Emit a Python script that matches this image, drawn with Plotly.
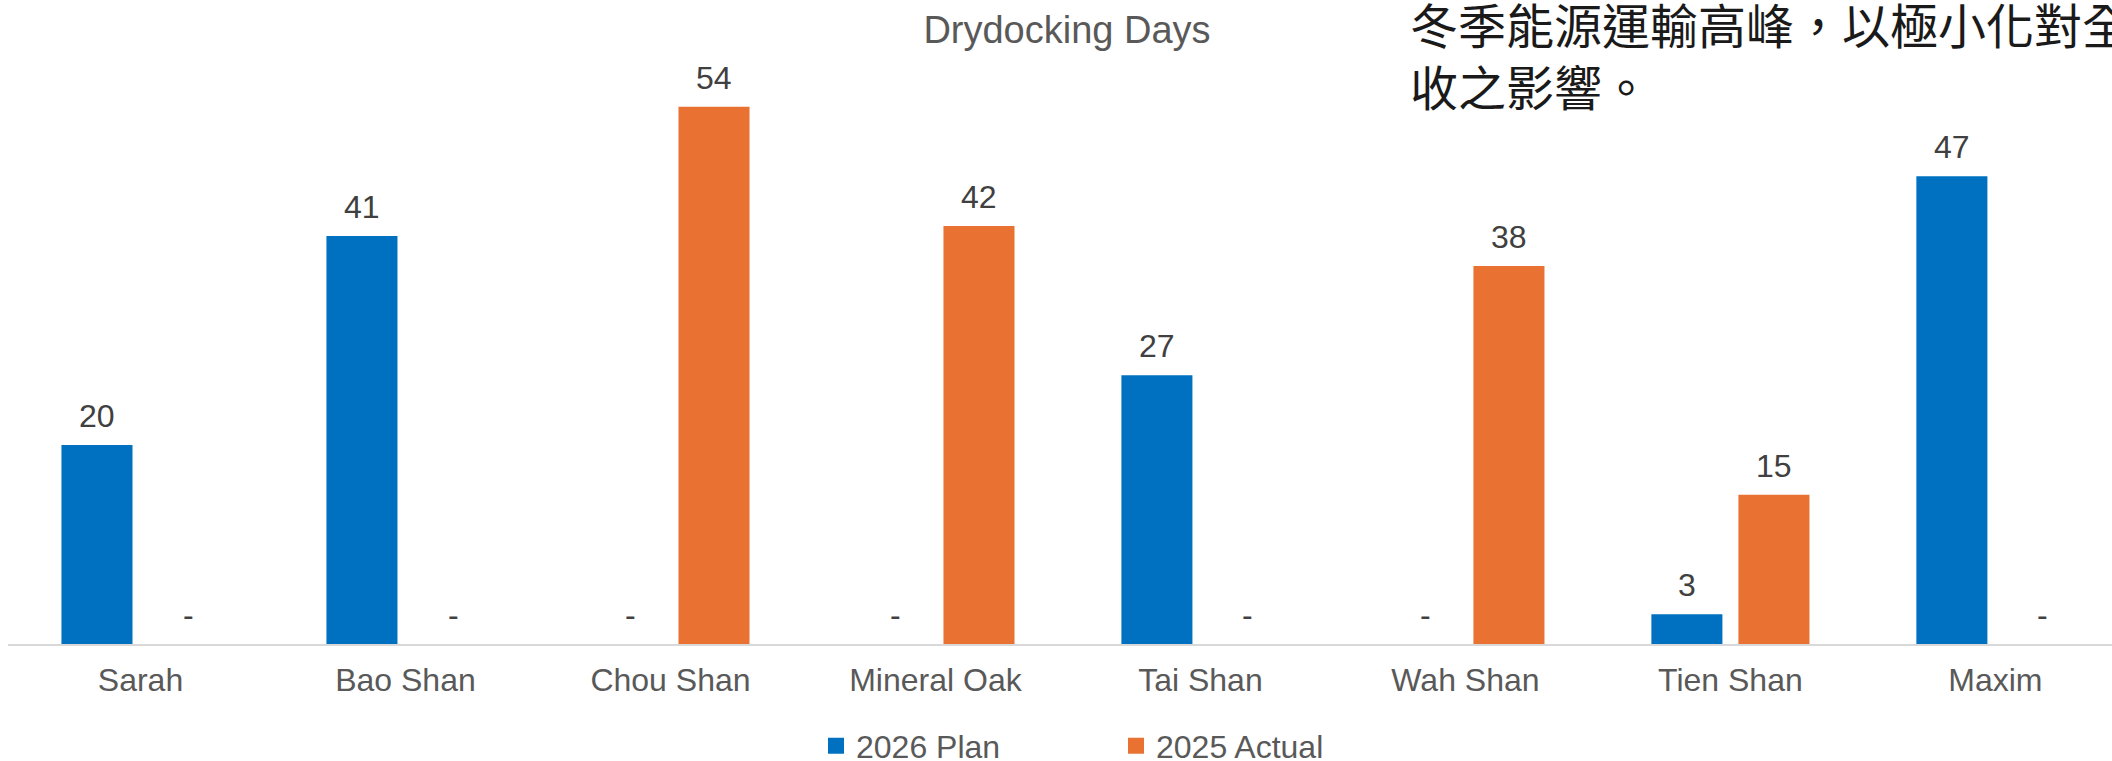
import plotly.graph_objects as go

# Vessels and drydocking days per scenario
vessels = ["Sarah", "Bao Shan", "Chou Shan", "Mineral Oak", "Tai Shan", "Wah Shan", "Tien Shan", "Maxim"]
plan_2026 = [20, 41, 0, 0, 27, 0, 3, 47]
actual_2025 = [0, 0, 54, 42, 0, 38, 15, 0]
series_names = ["2026 Plan", "2025 Actual"]
note_lines = ["冬季能源運輸高峰，以極小化對全", "收之影響。"]


def value_label(v):
    # zero values are shown as an accounting-style dash
    return str(v) if v else "-"


FONT = "Arial, 'Liberation Sans', sans-serif"
BLUE = "#0070C0"
ORANGE = "#E97132"

BARGAP = 0.343
CAT_PX = 265  # pixel width of one category on the x axis
SLOT_SHIFT = (1 - BARGAP) * CAT_PX / 4  # centre offset of each bar inside its group
DASH_NUDGE = 4  # accounting dash sits slightly right of the slot centre

series = [
    (series_names[0], plan_2026, BLUE, -SLOT_SHIFT),
    (series_names[1], actual_2025, ORANGE, SLOT_SHIFT),
]

fig = go.Figure()
label_annotations = []
for name, vals, color, shift in series:
    fig.add_trace(go.Bar(
        x=vessels,
        y=vals,
        name=name,
        legendgroup=name,
        showlegend=False,
        marker=dict(color=color, line=dict(width=0)),
    ))
    for vessel, v in zip(vessels, vals):
        label_annotations.append(dict(
            x=vessel,
            y=v,
            xref="x",
            yref="y",
            text=value_label(v),
            showarrow=False,
            xanchor="center",
            yanchor="middle",
            xshift=shift + (0 if v else DASH_NUDGE),
            yshift=29,
            font=dict(family=FONT, size=32, color="#404040"),
        ))

# legend keys: larger square swatches than the default bar legend symbol
for name, _, color, _ in series:
    fig.add_trace(go.Scatter(
        x=[None],
        y=[None],
        mode="markers",
        name=name,
        legendgroup=name,
        marker=dict(symbol="square", size=16, color=color),
        hoverinfo="skip",
    ))

note = dict(
    text="<br>".join(note_lines),
    xref="paper",
    yref="paper",
    x=(1408 - 8) / 2104,
    y=(644 - 54) / 604,
    xanchor="left",
    yanchor="middle",
    align="left",
    showarrow=False,
    font=dict(family="'Noto Sans CJK TC', 'Noto Sans CJK JP', sans-serif", size=48, color="#1a1a1a"),
)

fig.update_layout(
    width=2112,
    height=761,
    margin=dict(l=8, r=0, t=40, b=117, autoexpand=False),
    paper_bgcolor="white",
    plot_bgcolor="white",
    barmode="group",
    bargap=BARGAP,
    bargroupgap=0.184,
    font=dict(family=FONT, color="#595959"),
    title=dict(
        text="Drydocking Days",
        x=1067 / 2112,
        xanchor="center",
        xref="container",
        y=1 - 30 / 761,
        yanchor="middle",
        yref="container",
        font=dict(family=FONT, size=38, color="#595959"),
    ),
    xaxis=dict(
        range=[-0.5, 7.44],
        showline=True,
        linecolor="#D9D9D9",
        linewidth=2,
        showgrid=False,
        ticks="",
        tickfont=dict(family=FONT, size=32, color="#595959"),
        ticklabelstandoff=7,
    ),
    yaxis=dict(
        range=[0, 60.7],
        visible=False,
        showgrid=False,
        zeroline=False,
    ),
    legend=dict(
        orientation="h",
        x=(1116 - 8) / 2104,
        xanchor="center",
        y=1 - 746 / 761,
        yref="container",
        yanchor="middle",
        font=dict(family=FONT, size=32, color="#595959"),
        entrywidth=255,
        entrywidthmode="pixels",
    ),
    annotations=label_annotations + [note],
)

fig.write_html("out.html")
